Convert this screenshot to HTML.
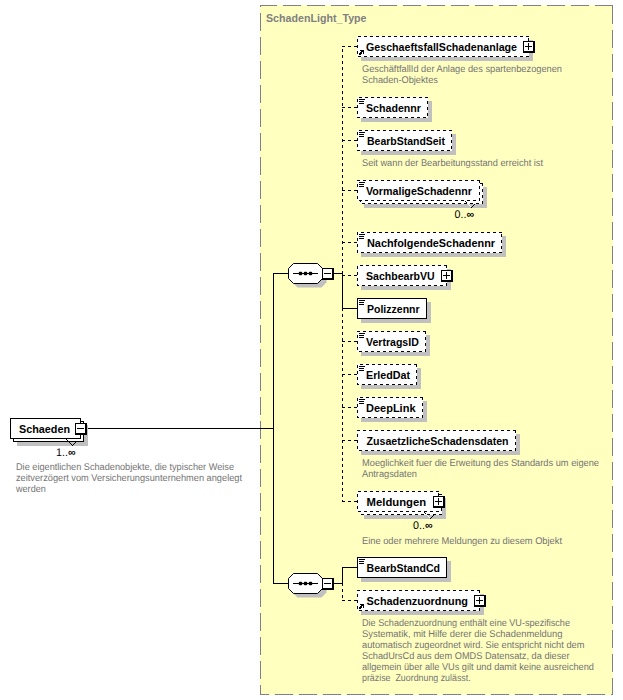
<!DOCTYPE html>
<html><head><meta charset="utf-8"><style>
html,body{margin:0;padding:0;width:623px;height:700px;overflow:hidden;background:#fff}
text{white-space:pre}
</style></head><body>
<svg width="623" height="700" viewBox="0 0 623 700" style="position:absolute;left:0;top:0;font-family:'Liberation Sans', sans-serif">
<rect width="623" height="700" fill="#fff"/>
<rect x="260" y="5" width="353" height="690" fill="#FFFFC0"/>
<g stroke="#808080" stroke-width="1" fill="none" shape-rendering="crispEdges">
<line x1="260" y1="5.5" x2="613" y2="5.5" stroke-dasharray="18 6" stroke-dashoffset="1"/>
<line x1="260.5" y1="5" x2="260.5" y2="695" stroke-dasharray="18 6" stroke-dashoffset="16"/>
<line x1="612.5" y1="5" x2="612.5" y2="695" stroke-dasharray="18 6" stroke-dashoffset="23"/>
<line x1="260" y1="694.5" x2="613" y2="694.5" stroke-dasharray="18 6" stroke-dashoffset="9"/>
</g>
<text x="266" y="22" font-size="11" font-weight="700" fill="#808080" textLength="100.50" lengthAdjust="spacingAndGlyphs">SchadenLight_Type</text>
<g shape-rendering="crispEdges">
<line x1="87" y1="428.5" x2="273" y2="428.5" stroke="#000"/>
<line x1="273.5" y1="273" x2="273.5" y2="584" stroke="#000"/>
<line x1="273" y1="273.5" x2="288" y2="273.5" stroke="#000"/>
<line x1="273" y1="583.5" x2="288" y2="583.5" stroke="#000"/>
<line x1="334" y1="273.5" x2="343" y2="273.5" stroke="#000"/>
<line x1="334" y1="583.5" x2="343" y2="583.5" stroke="#000"/>
<line x1="342.5" y1="46" x2="342.5" y2="274" stroke="#000" stroke-dasharray="3 3" stroke-dashoffset="3"/>
<line x1="342.5" y1="273" x2="342.5" y2="502" stroke="#000" stroke-dasharray="3 3" stroke-dashoffset="1"/>
<line x1="342.5" y1="273" x2="342.5" y2="309" stroke="#000"/>
<line x1="342.5" y1="567" x2="342.5" y2="584" stroke="#000"/>
<line x1="342.5" y1="583" x2="342.5" y2="601" stroke="#000" stroke-dasharray="3 3" stroke-dashoffset="0"/>
<line x1="342" y1="46.5" x2="357" y2="46.5" stroke="#000" stroke-dasharray="3 3" stroke-dashoffset="0"/>
<line x1="342" y1="107.5" x2="357" y2="107.5" stroke="#000" stroke-dasharray="3 3" stroke-dashoffset="0"/>
<line x1="342" y1="140.5" x2="357" y2="140.5" stroke="#000" stroke-dasharray="3 3" stroke-dashoffset="0"/>
<line x1="342" y1="190.5" x2="357" y2="190.5" stroke="#000" stroke-dasharray="3 3" stroke-dashoffset="0"/>
<line x1="342" y1="242.5" x2="357" y2="242.5" stroke="#000" stroke-dasharray="3 3" stroke-dashoffset="0"/>
<line x1="342" y1="275.5" x2="357" y2="275.5" stroke="#000" stroke-dasharray="3 3" stroke-dashoffset="0"/>
<line x1="342" y1="308.5" x2="357" y2="308.5" stroke="#000"/>
<line x1="342" y1="341.5" x2="357" y2="341.5" stroke="#000" stroke-dasharray="3 3" stroke-dashoffset="0"/>
<line x1="342" y1="374.5" x2="357" y2="374.5" stroke="#000" stroke-dasharray="3 3" stroke-dashoffset="0"/>
<line x1="342" y1="407.5" x2="357" y2="407.5" stroke="#000" stroke-dasharray="3 3" stroke-dashoffset="0"/>
<line x1="342" y1="440.5" x2="357" y2="440.5" stroke="#000" stroke-dasharray="3 3" stroke-dashoffset="0"/>
<line x1="342" y1="501.5" x2="357" y2="501.5" stroke="#000" stroke-dasharray="3 3" stroke-dashoffset="0"/>
<line x1="342" y1="567.5" x2="357" y2="567.5" stroke="#000"/>
<line x1="342" y1="600.5" x2="357" y2="600.5" stroke="#000" stroke-dasharray="3 3" stroke-dashoffset="0"/>
</g>
<polygon points="292.5,272.5 297.5,267.5 321.5,267.5 326.5,272.5 326.5,282.5 321.5,287.5 297.5,287.5 292.5,282.5" fill="#C0C0C0"/>
<polygon points="288.5,268.5 293.5,263.5 317.5,263.5 322.5,268.5 322.5,278.5 317.5,283.5 293.5,283.5 288.5,278.5" fill="#fff" stroke="#000"/>
<line x1="293" y1="273.5" x2="318" y2="273.5" stroke="#000"/>
<rect x="299" y="272" width="3" height="3" fill="#000"/>
<rect x="298.5" y="272.5" width="4" height="2" fill="#000" opacity="0.5"/>
<rect x="299.5" y="271.5" width="2" height="4" fill="#000" opacity="0.5"/>
<rect x="304" y="272" width="3" height="3" fill="#000"/>
<rect x="303.5" y="272.5" width="4" height="2" fill="#000" opacity="0.5"/>
<rect x="304.5" y="271.5" width="2" height="4" fill="#000" opacity="0.5"/>
<rect x="309" y="272" width="3" height="3" fill="#000"/>
<rect x="308.5" y="272.5" width="4" height="2" fill="#000" opacity="0.5"/>
<rect x="309.5" y="271.5" width="2" height="4" fill="#000" opacity="0.5"/>
<rect x="322" y="268" width="12" height="12" fill="#000"/>
<rect x="323" y="269" width="9" height="9" fill="#fff"/>
<line x1="324" y1="273.5" x2="331" y2="273.5" stroke="#000"/>
<polygon points="292.5,582.5 297.5,577.5 321.5,577.5 326.5,582.5 326.5,592.5 321.5,597.5 297.5,597.5 292.5,592.5" fill="#C0C0C0"/>
<polygon points="288.5,578.5 293.5,573.5 317.5,573.5 322.5,578.5 322.5,588.5 317.5,593.5 293.5,593.5 288.5,588.5" fill="#fff" stroke="#000"/>
<line x1="293" y1="583.5" x2="318" y2="583.5" stroke="#000"/>
<rect x="299" y="582" width="3" height="3" fill="#000"/>
<rect x="298.5" y="582.5" width="4" height="2" fill="#000" opacity="0.5"/>
<rect x="299.5" y="581.5" width="2" height="4" fill="#000" opacity="0.5"/>
<rect x="304" y="582" width="3" height="3" fill="#000"/>
<rect x="303.5" y="582.5" width="4" height="2" fill="#000" opacity="0.5"/>
<rect x="304.5" y="581.5" width="2" height="4" fill="#000" opacity="0.5"/>
<rect x="309" y="582" width="3" height="3" fill="#000"/>
<rect x="308.5" y="582.5" width="4" height="2" fill="#000" opacity="0.5"/>
<rect x="309.5" y="581.5" width="2" height="4" fill="#000" opacity="0.5"/>
<rect x="322" y="578" width="12" height="12" fill="#000"/>
<rect x="323" y="579" width="9" height="9" fill="#fff"/>
<line x1="324" y1="583.5" x2="331" y2="583.5" stroke="#000"/>
<g shape-rendering="crispEdges">
<rect x="361" y="40" width="172" height="21" fill="#C0C0C0"/>
<rect x="357" y="36" width="172" height="21" fill="#fff"/>
<path d="M528,36h1v1h-1zM527,36h1v1h-1zM526,36h1v1h-1zM522,36h1v1h-1zM521,36h1v1h-1zM520,36h1v1h-1zM516,36h1v1h-1zM515,36h1v1h-1zM514,36h1v1h-1zM510,36h1v1h-1zM509,36h1v1h-1zM508,36h1v1h-1zM504,36h1v1h-1zM503,36h1v1h-1zM502,36h1v1h-1zM498,36h1v1h-1zM497,36h1v1h-1zM496,36h1v1h-1zM492,36h1v1h-1zM491,36h1v1h-1zM490,36h1v1h-1zM486,36h1v1h-1zM485,36h1v1h-1zM484,36h1v1h-1zM480,36h1v1h-1zM479,36h1v1h-1zM478,36h1v1h-1zM474,36h1v1h-1zM473,36h1v1h-1zM472,36h1v1h-1zM468,36h1v1h-1zM467,36h1v1h-1zM466,36h1v1h-1zM462,36h1v1h-1zM461,36h1v1h-1zM460,36h1v1h-1zM456,36h1v1h-1zM455,36h1v1h-1zM454,36h1v1h-1zM450,36h1v1h-1zM449,36h1v1h-1zM448,36h1v1h-1zM444,36h1v1h-1zM443,36h1v1h-1zM442,36h1v1h-1zM438,36h1v1h-1zM437,36h1v1h-1zM436,36h1v1h-1zM432,36h1v1h-1zM431,36h1v1h-1zM430,36h1v1h-1zM426,36h1v1h-1zM425,36h1v1h-1zM424,36h1v1h-1zM420,36h1v1h-1zM419,36h1v1h-1zM418,36h1v1h-1zM414,36h1v1h-1zM413,36h1v1h-1zM412,36h1v1h-1zM408,36h1v1h-1zM407,36h1v1h-1zM406,36h1v1h-1zM402,36h1v1h-1zM401,36h1v1h-1zM400,36h1v1h-1zM396,36h1v1h-1zM395,36h1v1h-1zM394,36h1v1h-1zM390,36h1v1h-1zM389,36h1v1h-1zM388,36h1v1h-1zM384,36h1v1h-1zM383,36h1v1h-1zM382,36h1v1h-1zM378,36h1v1h-1zM377,36h1v1h-1zM376,36h1v1h-1zM372,36h1v1h-1zM371,36h1v1h-1zM370,36h1v1h-1zM366,36h1v1h-1zM365,36h1v1h-1zM364,36h1v1h-1zM360,36h1v1h-1zM359,36h1v1h-1zM358,36h1v1h-1zM357,39h1v1h-1zM357,40h1v1h-1zM357,41h1v1h-1zM357,45h1v1h-1zM357,46h1v1h-1zM357,47h1v1h-1zM357,51h1v1h-1zM357,52h1v1h-1zM357,53h1v1h-1zM358,56h1v1h-1zM359,56h1v1h-1zM360,56h1v1h-1zM364,56h1v1h-1zM365,56h1v1h-1zM366,56h1v1h-1zM370,56h1v1h-1zM371,56h1v1h-1zM372,56h1v1h-1zM376,56h1v1h-1zM377,56h1v1h-1zM378,56h1v1h-1zM382,56h1v1h-1zM383,56h1v1h-1zM384,56h1v1h-1zM388,56h1v1h-1zM389,56h1v1h-1zM390,56h1v1h-1zM394,56h1v1h-1zM395,56h1v1h-1zM396,56h1v1h-1zM400,56h1v1h-1zM401,56h1v1h-1zM402,56h1v1h-1zM406,56h1v1h-1zM407,56h1v1h-1zM408,56h1v1h-1zM412,56h1v1h-1zM413,56h1v1h-1zM414,56h1v1h-1zM418,56h1v1h-1zM419,56h1v1h-1zM420,56h1v1h-1zM424,56h1v1h-1zM425,56h1v1h-1zM426,56h1v1h-1zM430,56h1v1h-1zM431,56h1v1h-1zM432,56h1v1h-1zM436,56h1v1h-1zM437,56h1v1h-1zM438,56h1v1h-1zM442,56h1v1h-1zM443,56h1v1h-1zM444,56h1v1h-1zM448,56h1v1h-1zM449,56h1v1h-1zM450,56h1v1h-1zM454,56h1v1h-1zM455,56h1v1h-1zM456,56h1v1h-1zM460,56h1v1h-1zM461,56h1v1h-1zM462,56h1v1h-1zM466,56h1v1h-1zM467,56h1v1h-1zM468,56h1v1h-1zM472,56h1v1h-1zM473,56h1v1h-1zM474,56h1v1h-1zM478,56h1v1h-1zM479,56h1v1h-1zM480,56h1v1h-1zM484,56h1v1h-1zM485,56h1v1h-1zM486,56h1v1h-1zM490,56h1v1h-1zM491,56h1v1h-1zM492,56h1v1h-1zM496,56h1v1h-1zM497,56h1v1h-1zM498,56h1v1h-1zM502,56h1v1h-1zM503,56h1v1h-1zM504,56h1v1h-1zM508,56h1v1h-1zM509,56h1v1h-1zM510,56h1v1h-1zM514,56h1v1h-1zM515,56h1v1h-1zM516,56h1v1h-1zM520,56h1v1h-1zM521,56h1v1h-1zM522,56h1v1h-1zM526,56h1v1h-1zM527,56h1v1h-1zM528,56h1v1h-1zM528,52h1v1h-1zM528,51h1v1h-1zM528,50h1v1h-1zM528,46h1v1h-1zM528,45h1v1h-1zM528,44h1v1h-1zM528,40h1v1h-1zM528,39h1v1h-1zM528,38h1v1h-1z" fill="#000"/>
<rect x="360" y="50" width="4" height="1" fill="#000"/>
<rect x="361" y="51" width="3" height="1" fill="#000"/>
<rect x="360" y="52" width="2" height="1" fill="#000"/>
<rect x="363" y="52" width="1" height="2" fill="#000"/>
<rect x="359" y="53" width="3" height="1" fill="#000"/>
<rect x="359" y="54" width="2" height="1" fill="#000"/>
<text x="366" y="51" font-size="11" font-weight="700" fill="#000" textLength="151.00" lengthAdjust="spacingAndGlyphs">GeschaeftsfallSchadenanlage</text>
<rect x="523" y="41" width="12" height="12" fill="#000"/>
<rect x="524" y="42" width="9" height="9" fill="#fff"/>
<line x1="525" y1="46.5" x2="532" y2="46.5" stroke="#000"/>
<line x1="528.5" y1="43" x2="528.5" y2="50" stroke="#000"/>
<rect x="361" y="101" width="71" height="21" fill="#C0C0C0"/>
<rect x="357" y="97" width="71" height="21" fill="#fff"/>
<path d="M427,97h1v1h-1zM426,97h1v1h-1zM425,97h1v1h-1zM421,97h1v1h-1zM420,97h1v1h-1zM419,97h1v1h-1zM415,97h1v1h-1zM414,97h1v1h-1zM413,97h1v1h-1zM409,97h1v1h-1zM408,97h1v1h-1zM407,97h1v1h-1zM403,97h1v1h-1zM402,97h1v1h-1zM401,97h1v1h-1zM397,97h1v1h-1zM396,97h1v1h-1zM395,97h1v1h-1zM391,97h1v1h-1zM390,97h1v1h-1zM389,97h1v1h-1zM385,97h1v1h-1zM384,97h1v1h-1zM383,97h1v1h-1zM379,97h1v1h-1zM378,97h1v1h-1zM377,97h1v1h-1zM373,97h1v1h-1zM372,97h1v1h-1zM371,97h1v1h-1zM367,97h1v1h-1zM366,97h1v1h-1zM365,97h1v1h-1zM361,97h1v1h-1zM360,97h1v1h-1zM359,97h1v1h-1zM357,99h1v1h-1zM357,100h1v1h-1zM357,101h1v1h-1zM357,105h1v1h-1zM357,106h1v1h-1zM357,107h1v1h-1zM357,111h1v1h-1zM357,112h1v1h-1zM357,113h1v1h-1zM357,117h1v1h-1zM358,117h1v1h-1zM359,117h1v1h-1zM363,117h1v1h-1zM364,117h1v1h-1zM365,117h1v1h-1zM369,117h1v1h-1zM370,117h1v1h-1zM371,117h1v1h-1zM375,117h1v1h-1zM376,117h1v1h-1zM377,117h1v1h-1zM381,117h1v1h-1zM382,117h1v1h-1zM383,117h1v1h-1zM387,117h1v1h-1zM388,117h1v1h-1zM389,117h1v1h-1zM393,117h1v1h-1zM394,117h1v1h-1zM395,117h1v1h-1zM399,117h1v1h-1zM400,117h1v1h-1zM401,117h1v1h-1zM405,117h1v1h-1zM406,117h1v1h-1zM407,117h1v1h-1zM411,117h1v1h-1zM412,117h1v1h-1zM413,117h1v1h-1zM417,117h1v1h-1zM418,117h1v1h-1zM419,117h1v1h-1zM423,117h1v1h-1zM424,117h1v1h-1zM425,117h1v1h-1zM427,115h1v1h-1zM427,114h1v1h-1zM427,113h1v1h-1zM427,109h1v1h-1zM427,108h1v1h-1zM427,107h1v1h-1zM427,103h1v1h-1zM427,102h1v1h-1zM427,101h1v1h-1z" fill="#000"/>
<line x1="359" y1="99.5" x2="365" y2="99.5" stroke="#000"/>
<line x1="359" y1="101.5" x2="364" y2="101.5" stroke="#000"/>
<line x1="359" y1="103.5" x2="364" y2="103.5" stroke="#000"/>
<text x="366" y="112" font-size="11" font-weight="700" fill="#000" textLength="55.00" lengthAdjust="spacingAndGlyphs">Schadennr</text>
<rect x="361" y="134" width="95" height="21" fill="#C0C0C0"/>
<rect x="357" y="130" width="95" height="21" fill="#fff"/>
<path d="M451,130h1v1h-1zM450,130h1v1h-1zM449,130h1v1h-1zM445,130h1v1h-1zM444,130h1v1h-1zM443,130h1v1h-1zM439,130h1v1h-1zM438,130h1v1h-1zM437,130h1v1h-1zM433,130h1v1h-1zM432,130h1v1h-1zM431,130h1v1h-1zM427,130h1v1h-1zM426,130h1v1h-1zM425,130h1v1h-1zM421,130h1v1h-1zM420,130h1v1h-1zM419,130h1v1h-1zM415,130h1v1h-1zM414,130h1v1h-1zM413,130h1v1h-1zM409,130h1v1h-1zM408,130h1v1h-1zM407,130h1v1h-1zM403,130h1v1h-1zM402,130h1v1h-1zM401,130h1v1h-1zM397,130h1v1h-1zM396,130h1v1h-1zM395,130h1v1h-1zM391,130h1v1h-1zM390,130h1v1h-1zM389,130h1v1h-1zM385,130h1v1h-1zM384,130h1v1h-1zM383,130h1v1h-1zM379,130h1v1h-1zM378,130h1v1h-1zM377,130h1v1h-1zM373,130h1v1h-1zM372,130h1v1h-1zM371,130h1v1h-1zM367,130h1v1h-1zM366,130h1v1h-1zM365,130h1v1h-1zM361,130h1v1h-1zM360,130h1v1h-1zM359,130h1v1h-1zM357,132h1v1h-1zM357,133h1v1h-1zM357,134h1v1h-1zM357,138h1v1h-1zM357,139h1v1h-1zM357,140h1v1h-1zM357,144h1v1h-1zM357,145h1v1h-1zM357,146h1v1h-1zM357,150h1v1h-1zM358,150h1v1h-1zM359,150h1v1h-1zM363,150h1v1h-1zM364,150h1v1h-1zM365,150h1v1h-1zM369,150h1v1h-1zM370,150h1v1h-1zM371,150h1v1h-1zM375,150h1v1h-1zM376,150h1v1h-1zM377,150h1v1h-1zM381,150h1v1h-1zM382,150h1v1h-1zM383,150h1v1h-1zM387,150h1v1h-1zM388,150h1v1h-1zM389,150h1v1h-1zM393,150h1v1h-1zM394,150h1v1h-1zM395,150h1v1h-1zM399,150h1v1h-1zM400,150h1v1h-1zM401,150h1v1h-1zM405,150h1v1h-1zM406,150h1v1h-1zM407,150h1v1h-1zM411,150h1v1h-1zM412,150h1v1h-1zM413,150h1v1h-1zM417,150h1v1h-1zM418,150h1v1h-1zM419,150h1v1h-1zM423,150h1v1h-1zM424,150h1v1h-1zM425,150h1v1h-1zM429,150h1v1h-1zM430,150h1v1h-1zM431,150h1v1h-1zM435,150h1v1h-1zM436,150h1v1h-1zM437,150h1v1h-1zM441,150h1v1h-1zM442,150h1v1h-1zM443,150h1v1h-1zM447,150h1v1h-1zM448,150h1v1h-1zM449,150h1v1h-1zM451,148h1v1h-1zM451,147h1v1h-1zM451,146h1v1h-1zM451,142h1v1h-1zM451,141h1v1h-1zM451,140h1v1h-1zM451,136h1v1h-1zM451,135h1v1h-1zM451,134h1v1h-1z" fill="#000"/>
<line x1="359" y1="132.5" x2="365" y2="132.5" stroke="#000"/>
<line x1="359" y1="134.5" x2="364" y2="134.5" stroke="#000"/>
<line x1="359" y1="136.5" x2="364" y2="136.5" stroke="#000"/>
<text x="367" y="145" font-size="11" font-weight="700" fill="#000" textLength="78.00" lengthAdjust="spacingAndGlyphs">BearbStandSeit</text>
<rect x="364" y="187" width="123" height="21" fill="#C0C0C0"/>
<rect x="360" y="183" width="123" height="21" fill="#fff"/>
<path d="M482,183h1v1h-1zM481,183h1v1h-1zM480,183h1v1h-1zM476,183h1v1h-1zM475,183h1v1h-1zM474,183h1v1h-1zM470,183h1v1h-1zM469,183h1v1h-1zM468,183h1v1h-1zM464,183h1v1h-1zM463,183h1v1h-1zM462,183h1v1h-1zM458,183h1v1h-1zM457,183h1v1h-1zM456,183h1v1h-1zM452,183h1v1h-1zM451,183h1v1h-1zM450,183h1v1h-1zM446,183h1v1h-1zM445,183h1v1h-1zM444,183h1v1h-1zM440,183h1v1h-1zM439,183h1v1h-1zM438,183h1v1h-1zM434,183h1v1h-1zM433,183h1v1h-1zM432,183h1v1h-1zM428,183h1v1h-1zM427,183h1v1h-1zM426,183h1v1h-1zM422,183h1v1h-1zM421,183h1v1h-1zM420,183h1v1h-1zM416,183h1v1h-1zM415,183h1v1h-1zM414,183h1v1h-1zM410,183h1v1h-1zM409,183h1v1h-1zM408,183h1v1h-1zM404,183h1v1h-1zM403,183h1v1h-1zM402,183h1v1h-1zM398,183h1v1h-1zM397,183h1v1h-1zM396,183h1v1h-1zM392,183h1v1h-1zM391,183h1v1h-1zM390,183h1v1h-1zM386,183h1v1h-1zM385,183h1v1h-1zM384,183h1v1h-1zM380,183h1v1h-1zM379,183h1v1h-1zM378,183h1v1h-1zM374,183h1v1h-1zM373,183h1v1h-1zM372,183h1v1h-1zM368,183h1v1h-1zM367,183h1v1h-1zM366,183h1v1h-1zM362,183h1v1h-1zM361,183h1v1h-1zM360,183h1v1h-1zM360,187h1v1h-1zM360,188h1v1h-1zM360,189h1v1h-1zM360,193h1v1h-1zM360,194h1v1h-1zM360,195h1v1h-1zM360,199h1v1h-1zM360,200h1v1h-1zM360,201h1v1h-1zM362,203h1v1h-1zM363,203h1v1h-1zM364,203h1v1h-1zM368,203h1v1h-1zM369,203h1v1h-1zM370,203h1v1h-1zM374,203h1v1h-1zM375,203h1v1h-1zM376,203h1v1h-1zM380,203h1v1h-1zM381,203h1v1h-1zM382,203h1v1h-1zM386,203h1v1h-1zM387,203h1v1h-1zM388,203h1v1h-1zM392,203h1v1h-1zM393,203h1v1h-1zM394,203h1v1h-1zM398,203h1v1h-1zM399,203h1v1h-1zM400,203h1v1h-1zM404,203h1v1h-1zM405,203h1v1h-1zM406,203h1v1h-1zM410,203h1v1h-1zM411,203h1v1h-1zM412,203h1v1h-1zM416,203h1v1h-1zM417,203h1v1h-1zM418,203h1v1h-1zM422,203h1v1h-1zM423,203h1v1h-1zM424,203h1v1h-1zM428,203h1v1h-1zM429,203h1v1h-1zM430,203h1v1h-1zM434,203h1v1h-1zM435,203h1v1h-1zM436,203h1v1h-1zM440,203h1v1h-1zM441,203h1v1h-1zM442,203h1v1h-1zM446,203h1v1h-1zM447,203h1v1h-1zM448,203h1v1h-1zM452,203h1v1h-1zM453,203h1v1h-1zM454,203h1v1h-1zM458,203h1v1h-1zM459,203h1v1h-1zM460,203h1v1h-1zM464,203h1v1h-1zM465,203h1v1h-1zM466,203h1v1h-1zM470,203h1v1h-1zM471,203h1v1h-1zM472,203h1v1h-1zM476,203h1v1h-1zM477,203h1v1h-1zM478,203h1v1h-1zM482,203h1v1h-1zM482,202h1v1h-1zM482,201h1v1h-1zM482,197h1v1h-1zM482,196h1v1h-1zM482,195h1v1h-1zM482,191h1v1h-1zM482,190h1v1h-1zM482,189h1v1h-1zM482,185h1v1h-1zM482,184h1v1h-1z" fill="#000"/>
<rect x="357" y="180" width="123" height="21" fill="#fff"/>
<path d="M479,180h1v1h-1zM478,180h1v1h-1zM477,180h1v1h-1zM473,180h1v1h-1zM472,180h1v1h-1zM471,180h1v1h-1zM467,180h1v1h-1zM466,180h1v1h-1zM465,180h1v1h-1zM461,180h1v1h-1zM460,180h1v1h-1zM459,180h1v1h-1zM455,180h1v1h-1zM454,180h1v1h-1zM453,180h1v1h-1zM449,180h1v1h-1zM448,180h1v1h-1zM447,180h1v1h-1zM443,180h1v1h-1zM442,180h1v1h-1zM441,180h1v1h-1zM437,180h1v1h-1zM436,180h1v1h-1zM435,180h1v1h-1zM431,180h1v1h-1zM430,180h1v1h-1zM429,180h1v1h-1zM425,180h1v1h-1zM424,180h1v1h-1zM423,180h1v1h-1zM419,180h1v1h-1zM418,180h1v1h-1zM417,180h1v1h-1zM413,180h1v1h-1zM412,180h1v1h-1zM411,180h1v1h-1zM407,180h1v1h-1zM406,180h1v1h-1zM405,180h1v1h-1zM401,180h1v1h-1zM400,180h1v1h-1zM399,180h1v1h-1zM395,180h1v1h-1zM394,180h1v1h-1zM393,180h1v1h-1zM389,180h1v1h-1zM388,180h1v1h-1zM387,180h1v1h-1zM383,180h1v1h-1zM382,180h1v1h-1zM381,180h1v1h-1zM377,180h1v1h-1zM376,180h1v1h-1zM375,180h1v1h-1zM371,180h1v1h-1zM370,180h1v1h-1zM369,180h1v1h-1zM365,180h1v1h-1zM364,180h1v1h-1zM363,180h1v1h-1zM359,180h1v1h-1zM358,180h1v1h-1zM357,180h1v1h-1zM357,184h1v1h-1zM357,185h1v1h-1zM357,186h1v1h-1zM357,190h1v1h-1zM357,191h1v1h-1zM357,192h1v1h-1zM357,196h1v1h-1zM357,197h1v1h-1zM357,198h1v1h-1zM359,200h1v1h-1zM360,200h1v1h-1zM361,200h1v1h-1zM365,200h1v1h-1zM366,200h1v1h-1zM367,200h1v1h-1zM371,200h1v1h-1zM372,200h1v1h-1zM373,200h1v1h-1zM377,200h1v1h-1zM378,200h1v1h-1zM379,200h1v1h-1zM383,200h1v1h-1zM384,200h1v1h-1zM385,200h1v1h-1zM389,200h1v1h-1zM390,200h1v1h-1zM391,200h1v1h-1zM395,200h1v1h-1zM396,200h1v1h-1zM397,200h1v1h-1zM401,200h1v1h-1zM402,200h1v1h-1zM403,200h1v1h-1zM407,200h1v1h-1zM408,200h1v1h-1zM409,200h1v1h-1zM413,200h1v1h-1zM414,200h1v1h-1zM415,200h1v1h-1zM419,200h1v1h-1zM420,200h1v1h-1zM421,200h1v1h-1zM425,200h1v1h-1zM426,200h1v1h-1zM427,200h1v1h-1zM431,200h1v1h-1zM432,200h1v1h-1zM433,200h1v1h-1zM437,200h1v1h-1zM438,200h1v1h-1zM439,200h1v1h-1zM443,200h1v1h-1zM444,200h1v1h-1zM445,200h1v1h-1zM449,200h1v1h-1zM450,200h1v1h-1zM451,200h1v1h-1zM455,200h1v1h-1zM456,200h1v1h-1zM457,200h1v1h-1zM461,200h1v1h-1zM462,200h1v1h-1zM463,200h1v1h-1zM467,200h1v1h-1zM468,200h1v1h-1zM469,200h1v1h-1zM473,200h1v1h-1zM474,200h1v1h-1zM475,200h1v1h-1zM479,200h1v1h-1zM479,199h1v1h-1zM479,198h1v1h-1zM479,194h1v1h-1zM479,193h1v1h-1zM479,192h1v1h-1zM479,188h1v1h-1zM479,187h1v1h-1zM479,186h1v1h-1zM479,182h1v1h-1zM479,181h1v1h-1z" fill="#000"/>
<line x1="359" y1="182.5" x2="365" y2="182.5" stroke="#000"/>
<line x1="359" y1="184.5" x2="364" y2="184.5" stroke="#000"/>
<line x1="359" y1="186.5" x2="364" y2="186.5" stroke="#000"/>
<text x="366" y="195" font-size="11" font-weight="700" fill="#000" textLength="106.00" lengthAdjust="spacingAndGlyphs">VormaligeSchadennr</text>
<rect x="468" y="204" width="1" height="1" fill="#fff"/>
<rect x="469" y="205" width="1" height="1" fill="#fff"/>
<rect x="470" y="206" width="1" height="1" fill="#fff"/>
<rect x="465" y="201" width="1" height="1" fill="#000"/>
<rect x="466" y="202" width="1" height="1" fill="#000"/>
<rect x="471" y="207" width="1" height="1" fill="#000"/>
<rect x="472" y="206" width="1" height="1" fill="#000"/>
<rect x="473" y="205" width="1" height="1" fill="#000"/>
<rect x="474" y="204" width="1" height="1" fill="#000"/>
<text x="454.5" y="218" font-size="11" fill="#000" text-rendering="geometricPrecision" textLength="19.5" lengthAdjust="spacingAndGlyphs">0..<tspan font-weight="700">∞</tspan></text>
<rect x="361" y="236" width="145" height="21" fill="#C0C0C0"/>
<rect x="357" y="232" width="145" height="21" fill="#fff"/>
<path d="M501,232h1v1h-1zM500,232h1v1h-1zM499,232h1v1h-1zM495,232h1v1h-1zM494,232h1v1h-1zM493,232h1v1h-1zM489,232h1v1h-1zM488,232h1v1h-1zM487,232h1v1h-1zM483,232h1v1h-1zM482,232h1v1h-1zM481,232h1v1h-1zM477,232h1v1h-1zM476,232h1v1h-1zM475,232h1v1h-1zM471,232h1v1h-1zM470,232h1v1h-1zM469,232h1v1h-1zM465,232h1v1h-1zM464,232h1v1h-1zM463,232h1v1h-1zM459,232h1v1h-1zM458,232h1v1h-1zM457,232h1v1h-1zM453,232h1v1h-1zM452,232h1v1h-1zM451,232h1v1h-1zM447,232h1v1h-1zM446,232h1v1h-1zM445,232h1v1h-1zM441,232h1v1h-1zM440,232h1v1h-1zM439,232h1v1h-1zM435,232h1v1h-1zM434,232h1v1h-1zM433,232h1v1h-1zM429,232h1v1h-1zM428,232h1v1h-1zM427,232h1v1h-1zM423,232h1v1h-1zM422,232h1v1h-1zM421,232h1v1h-1zM417,232h1v1h-1zM416,232h1v1h-1zM415,232h1v1h-1zM411,232h1v1h-1zM410,232h1v1h-1zM409,232h1v1h-1zM405,232h1v1h-1zM404,232h1v1h-1zM403,232h1v1h-1zM399,232h1v1h-1zM398,232h1v1h-1zM397,232h1v1h-1zM393,232h1v1h-1zM392,232h1v1h-1zM391,232h1v1h-1zM387,232h1v1h-1zM386,232h1v1h-1zM385,232h1v1h-1zM381,232h1v1h-1zM380,232h1v1h-1zM379,232h1v1h-1zM375,232h1v1h-1zM374,232h1v1h-1zM373,232h1v1h-1zM369,232h1v1h-1zM368,232h1v1h-1zM367,232h1v1h-1zM363,232h1v1h-1zM362,232h1v1h-1zM361,232h1v1h-1zM357,232h1v1h-1zM357,233h1v1h-1zM357,234h1v1h-1zM357,238h1v1h-1zM357,239h1v1h-1zM357,240h1v1h-1zM357,244h1v1h-1zM357,245h1v1h-1zM357,246h1v1h-1zM357,250h1v1h-1zM357,251h1v1h-1zM357,252h1v1h-1zM361,252h1v1h-1zM362,252h1v1h-1zM363,252h1v1h-1zM367,252h1v1h-1zM368,252h1v1h-1zM369,252h1v1h-1zM373,252h1v1h-1zM374,252h1v1h-1zM375,252h1v1h-1zM379,252h1v1h-1zM380,252h1v1h-1zM381,252h1v1h-1zM385,252h1v1h-1zM386,252h1v1h-1zM387,252h1v1h-1zM391,252h1v1h-1zM392,252h1v1h-1zM393,252h1v1h-1zM397,252h1v1h-1zM398,252h1v1h-1zM399,252h1v1h-1zM403,252h1v1h-1zM404,252h1v1h-1zM405,252h1v1h-1zM409,252h1v1h-1zM410,252h1v1h-1zM411,252h1v1h-1zM415,252h1v1h-1zM416,252h1v1h-1zM417,252h1v1h-1zM421,252h1v1h-1zM422,252h1v1h-1zM423,252h1v1h-1zM427,252h1v1h-1zM428,252h1v1h-1zM429,252h1v1h-1zM433,252h1v1h-1zM434,252h1v1h-1zM435,252h1v1h-1zM439,252h1v1h-1zM440,252h1v1h-1zM441,252h1v1h-1zM445,252h1v1h-1zM446,252h1v1h-1zM447,252h1v1h-1zM451,252h1v1h-1zM452,252h1v1h-1zM453,252h1v1h-1zM457,252h1v1h-1zM458,252h1v1h-1zM459,252h1v1h-1zM463,252h1v1h-1zM464,252h1v1h-1zM465,252h1v1h-1zM469,252h1v1h-1zM470,252h1v1h-1zM471,252h1v1h-1zM475,252h1v1h-1zM476,252h1v1h-1zM477,252h1v1h-1zM481,252h1v1h-1zM482,252h1v1h-1zM483,252h1v1h-1zM487,252h1v1h-1zM488,252h1v1h-1zM489,252h1v1h-1zM493,252h1v1h-1zM494,252h1v1h-1zM495,252h1v1h-1zM499,252h1v1h-1zM500,252h1v1h-1zM501,252h1v1h-1zM501,248h1v1h-1zM501,247h1v1h-1zM501,246h1v1h-1zM501,242h1v1h-1zM501,241h1v1h-1zM501,240h1v1h-1zM501,236h1v1h-1zM501,235h1v1h-1zM501,234h1v1h-1z" fill="#000"/>
<line x1="359" y1="234.5" x2="365" y2="234.5" stroke="#000"/>
<line x1="359" y1="236.5" x2="364" y2="236.5" stroke="#000"/>
<line x1="359" y1="238.5" x2="364" y2="238.5" stroke="#000"/>
<text x="367" y="247" font-size="11" font-weight="700" fill="#000" textLength="128.00" lengthAdjust="spacingAndGlyphs">NachfolgendeSchadennr</text>
<rect x="361" y="269" width="90" height="21" fill="#C0C0C0"/>
<rect x="357" y="265" width="90" height="21" fill="#fff"/>
<path d="M446,265h1v1h-1zM445,265h1v1h-1zM444,265h1v1h-1zM440,265h1v1h-1zM439,265h1v1h-1zM438,265h1v1h-1zM434,265h1v1h-1zM433,265h1v1h-1zM432,265h1v1h-1zM428,265h1v1h-1zM427,265h1v1h-1zM426,265h1v1h-1zM422,265h1v1h-1zM421,265h1v1h-1zM420,265h1v1h-1zM416,265h1v1h-1zM415,265h1v1h-1zM414,265h1v1h-1zM410,265h1v1h-1zM409,265h1v1h-1zM408,265h1v1h-1zM404,265h1v1h-1zM403,265h1v1h-1zM402,265h1v1h-1zM398,265h1v1h-1zM397,265h1v1h-1zM396,265h1v1h-1zM392,265h1v1h-1zM391,265h1v1h-1zM390,265h1v1h-1zM386,265h1v1h-1zM385,265h1v1h-1zM384,265h1v1h-1zM380,265h1v1h-1zM379,265h1v1h-1zM378,265h1v1h-1zM374,265h1v1h-1zM373,265h1v1h-1zM372,265h1v1h-1zM368,265h1v1h-1zM367,265h1v1h-1zM366,265h1v1h-1zM362,265h1v1h-1zM361,265h1v1h-1zM360,265h1v1h-1zM357,266h1v1h-1zM357,267h1v1h-1zM357,268h1v1h-1zM357,272h1v1h-1zM357,273h1v1h-1zM357,274h1v1h-1zM357,278h1v1h-1zM357,279h1v1h-1zM357,280h1v1h-1zM357,284h1v1h-1zM357,285h1v1h-1zM358,285h1v1h-1zM362,285h1v1h-1zM363,285h1v1h-1zM364,285h1v1h-1zM368,285h1v1h-1zM369,285h1v1h-1zM370,285h1v1h-1zM374,285h1v1h-1zM375,285h1v1h-1zM376,285h1v1h-1zM380,285h1v1h-1zM381,285h1v1h-1zM382,285h1v1h-1zM386,285h1v1h-1zM387,285h1v1h-1zM388,285h1v1h-1zM392,285h1v1h-1zM393,285h1v1h-1zM394,285h1v1h-1zM398,285h1v1h-1zM399,285h1v1h-1zM400,285h1v1h-1zM404,285h1v1h-1zM405,285h1v1h-1zM406,285h1v1h-1zM410,285h1v1h-1zM411,285h1v1h-1zM412,285h1v1h-1zM416,285h1v1h-1zM417,285h1v1h-1zM418,285h1v1h-1zM422,285h1v1h-1zM423,285h1v1h-1zM424,285h1v1h-1zM428,285h1v1h-1zM429,285h1v1h-1zM430,285h1v1h-1zM434,285h1v1h-1zM435,285h1v1h-1zM436,285h1v1h-1zM440,285h1v1h-1zM441,285h1v1h-1zM442,285h1v1h-1zM446,285h1v1h-1zM446,284h1v1h-1zM446,283h1v1h-1zM446,279h1v1h-1zM446,278h1v1h-1zM446,277h1v1h-1zM446,273h1v1h-1zM446,272h1v1h-1zM446,271h1v1h-1zM446,267h1v1h-1zM446,266h1v1h-1z" fill="#000"/>
<text x="366" y="280" font-size="11" font-weight="700" fill="#000" textLength="68.60" lengthAdjust="spacingAndGlyphs">SachbearbVU</text>
<rect x="441" y="270" width="12" height="12" fill="#000"/>
<rect x="442" y="271" width="9" height="9" fill="#fff"/>
<line x1="443" y1="275.5" x2="450" y2="275.5" stroke="#000"/>
<line x1="446.5" y1="272" x2="446.5" y2="279" stroke="#000"/>
<rect x="361" y="302" width="70" height="21" fill="#C0C0C0"/>
<rect x="357.5" y="298.5" width="69" height="20" fill="#fff" stroke="#000"/>
<line x1="359" y1="300.5" x2="365" y2="300.5" stroke="#000"/>
<line x1="359" y1="302.5" x2="364" y2="302.5" stroke="#000"/>
<line x1="359" y1="304.5" x2="364" y2="304.5" stroke="#000"/>
<text x="367" y="313" font-size="11" font-weight="700" fill="#000" textLength="52.60" lengthAdjust="spacingAndGlyphs">Polizzennr</text>
<rect x="361" y="335" width="69" height="21" fill="#C0C0C0"/>
<rect x="357" y="331" width="69" height="21" fill="#fff"/>
<path d="M425,331h1v1h-1zM424,331h1v1h-1zM423,331h1v1h-1zM419,331h1v1h-1zM418,331h1v1h-1zM417,331h1v1h-1zM413,331h1v1h-1zM412,331h1v1h-1zM411,331h1v1h-1zM407,331h1v1h-1zM406,331h1v1h-1zM405,331h1v1h-1zM401,331h1v1h-1zM400,331h1v1h-1zM399,331h1v1h-1zM395,331h1v1h-1zM394,331h1v1h-1zM393,331h1v1h-1zM389,331h1v1h-1zM388,331h1v1h-1zM387,331h1v1h-1zM383,331h1v1h-1zM382,331h1v1h-1zM381,331h1v1h-1zM377,331h1v1h-1zM376,331h1v1h-1zM375,331h1v1h-1zM371,331h1v1h-1zM370,331h1v1h-1zM369,331h1v1h-1zM365,331h1v1h-1zM364,331h1v1h-1zM363,331h1v1h-1zM359,331h1v1h-1zM358,331h1v1h-1zM357,331h1v1h-1zM357,335h1v1h-1zM357,336h1v1h-1zM357,337h1v1h-1zM357,341h1v1h-1zM357,342h1v1h-1zM357,343h1v1h-1zM357,347h1v1h-1zM357,348h1v1h-1zM357,349h1v1h-1zM359,351h1v1h-1zM360,351h1v1h-1zM361,351h1v1h-1zM365,351h1v1h-1zM366,351h1v1h-1zM367,351h1v1h-1zM371,351h1v1h-1zM372,351h1v1h-1zM373,351h1v1h-1zM377,351h1v1h-1zM378,351h1v1h-1zM379,351h1v1h-1zM383,351h1v1h-1zM384,351h1v1h-1zM385,351h1v1h-1zM389,351h1v1h-1zM390,351h1v1h-1zM391,351h1v1h-1zM395,351h1v1h-1zM396,351h1v1h-1zM397,351h1v1h-1zM401,351h1v1h-1zM402,351h1v1h-1zM403,351h1v1h-1zM407,351h1v1h-1zM408,351h1v1h-1zM409,351h1v1h-1zM413,351h1v1h-1zM414,351h1v1h-1zM415,351h1v1h-1zM419,351h1v1h-1zM420,351h1v1h-1zM421,351h1v1h-1zM425,351h1v1h-1zM425,350h1v1h-1zM425,349h1v1h-1zM425,345h1v1h-1zM425,344h1v1h-1zM425,343h1v1h-1zM425,339h1v1h-1zM425,338h1v1h-1zM425,337h1v1h-1zM425,333h1v1h-1zM425,332h1v1h-1z" fill="#000"/>
<line x1="359" y1="333.5" x2="365" y2="333.5" stroke="#000"/>
<line x1="359" y1="335.5" x2="364" y2="335.5" stroke="#000"/>
<line x1="359" y1="337.5" x2="364" y2="337.5" stroke="#000"/>
<text x="366" y="346" font-size="11" font-weight="700" fill="#000" textLength="52.80" lengthAdjust="spacingAndGlyphs">VertragsID</text>
<rect x="361" y="368" width="60" height="21" fill="#C0C0C0"/>
<rect x="357" y="364" width="60" height="21" fill="#fff"/>
<path d="M416,364h1v1h-1zM415,364h1v1h-1zM414,364h1v1h-1zM410,364h1v1h-1zM409,364h1v1h-1zM408,364h1v1h-1zM404,364h1v1h-1zM403,364h1v1h-1zM402,364h1v1h-1zM398,364h1v1h-1zM397,364h1v1h-1zM396,364h1v1h-1zM392,364h1v1h-1zM391,364h1v1h-1zM390,364h1v1h-1zM386,364h1v1h-1zM385,364h1v1h-1zM384,364h1v1h-1zM380,364h1v1h-1zM379,364h1v1h-1zM378,364h1v1h-1zM374,364h1v1h-1zM373,364h1v1h-1zM372,364h1v1h-1zM368,364h1v1h-1zM367,364h1v1h-1zM366,364h1v1h-1zM362,364h1v1h-1zM361,364h1v1h-1zM360,364h1v1h-1zM357,365h1v1h-1zM357,366h1v1h-1zM357,367h1v1h-1zM357,371h1v1h-1zM357,372h1v1h-1zM357,373h1v1h-1zM357,377h1v1h-1zM357,378h1v1h-1zM357,379h1v1h-1zM357,383h1v1h-1zM357,384h1v1h-1zM358,384h1v1h-1zM362,384h1v1h-1zM363,384h1v1h-1zM364,384h1v1h-1zM368,384h1v1h-1zM369,384h1v1h-1zM370,384h1v1h-1zM374,384h1v1h-1zM375,384h1v1h-1zM376,384h1v1h-1zM380,384h1v1h-1zM381,384h1v1h-1zM382,384h1v1h-1zM386,384h1v1h-1zM387,384h1v1h-1zM388,384h1v1h-1zM392,384h1v1h-1zM393,384h1v1h-1zM394,384h1v1h-1zM398,384h1v1h-1zM399,384h1v1h-1zM400,384h1v1h-1zM404,384h1v1h-1zM405,384h1v1h-1zM406,384h1v1h-1zM410,384h1v1h-1zM411,384h1v1h-1zM412,384h1v1h-1zM416,384h1v1h-1zM416,383h1v1h-1zM416,382h1v1h-1zM416,378h1v1h-1zM416,377h1v1h-1zM416,376h1v1h-1zM416,372h1v1h-1zM416,371h1v1h-1zM416,370h1v1h-1zM416,366h1v1h-1zM416,365h1v1h-1z" fill="#000"/>
<line x1="359" y1="366.5" x2="365" y2="366.5" stroke="#000"/>
<line x1="359" y1="368.5" x2="364" y2="368.5" stroke="#000"/>
<line x1="359" y1="370.5" x2="364" y2="370.5" stroke="#000"/>
<text x="366" y="379" font-size="11" font-weight="700" fill="#000" textLength="44.00" lengthAdjust="spacingAndGlyphs">ErledDat</text>
<rect x="361" y="401" width="66" height="21" fill="#C0C0C0"/>
<rect x="357" y="397" width="66" height="21" fill="#fff"/>
<path d="M422,397h1v1h-1zM421,397h1v1h-1zM420,397h1v1h-1zM416,397h1v1h-1zM415,397h1v1h-1zM414,397h1v1h-1zM410,397h1v1h-1zM409,397h1v1h-1zM408,397h1v1h-1zM404,397h1v1h-1zM403,397h1v1h-1zM402,397h1v1h-1zM398,397h1v1h-1zM397,397h1v1h-1zM396,397h1v1h-1zM392,397h1v1h-1zM391,397h1v1h-1zM390,397h1v1h-1zM386,397h1v1h-1zM385,397h1v1h-1zM384,397h1v1h-1zM380,397h1v1h-1zM379,397h1v1h-1zM378,397h1v1h-1zM374,397h1v1h-1zM373,397h1v1h-1zM372,397h1v1h-1zM368,397h1v1h-1zM367,397h1v1h-1zM366,397h1v1h-1zM362,397h1v1h-1zM361,397h1v1h-1zM360,397h1v1h-1zM357,398h1v1h-1zM357,399h1v1h-1zM357,400h1v1h-1zM357,404h1v1h-1zM357,405h1v1h-1zM357,406h1v1h-1zM357,410h1v1h-1zM357,411h1v1h-1zM357,412h1v1h-1zM357,416h1v1h-1zM357,417h1v1h-1zM358,417h1v1h-1zM362,417h1v1h-1zM363,417h1v1h-1zM364,417h1v1h-1zM368,417h1v1h-1zM369,417h1v1h-1zM370,417h1v1h-1zM374,417h1v1h-1zM375,417h1v1h-1zM376,417h1v1h-1zM380,417h1v1h-1zM381,417h1v1h-1zM382,417h1v1h-1zM386,417h1v1h-1zM387,417h1v1h-1zM388,417h1v1h-1zM392,417h1v1h-1zM393,417h1v1h-1zM394,417h1v1h-1zM398,417h1v1h-1zM399,417h1v1h-1zM400,417h1v1h-1zM404,417h1v1h-1zM405,417h1v1h-1zM406,417h1v1h-1zM410,417h1v1h-1zM411,417h1v1h-1zM412,417h1v1h-1zM416,417h1v1h-1zM417,417h1v1h-1zM418,417h1v1h-1zM422,417h1v1h-1zM422,416h1v1h-1zM422,415h1v1h-1zM422,411h1v1h-1zM422,410h1v1h-1zM422,409h1v1h-1zM422,405h1v1h-1zM422,404h1v1h-1zM422,403h1v1h-1zM422,399h1v1h-1zM422,398h1v1h-1z" fill="#000"/>
<line x1="359" y1="399.5" x2="365" y2="399.5" stroke="#000"/>
<line x1="359" y1="401.5" x2="364" y2="401.5" stroke="#000"/>
<line x1="359" y1="403.5" x2="364" y2="403.5" stroke="#000"/>
<text x="366" y="412" font-size="11" font-weight="700" fill="#000" textLength="49.50" lengthAdjust="spacingAndGlyphs">DeepLink</text>
<rect x="361" y="434" width="159" height="21" fill="#C0C0C0"/>
<rect x="357" y="430" width="159" height="21" fill="#fff"/>
<path d="M515,430h1v1h-1zM514,430h1v1h-1zM513,430h1v1h-1zM509,430h1v1h-1zM508,430h1v1h-1zM507,430h1v1h-1zM503,430h1v1h-1zM502,430h1v1h-1zM501,430h1v1h-1zM497,430h1v1h-1zM496,430h1v1h-1zM495,430h1v1h-1zM491,430h1v1h-1zM490,430h1v1h-1zM489,430h1v1h-1zM485,430h1v1h-1zM484,430h1v1h-1zM483,430h1v1h-1zM479,430h1v1h-1zM478,430h1v1h-1zM477,430h1v1h-1zM473,430h1v1h-1zM472,430h1v1h-1zM471,430h1v1h-1zM467,430h1v1h-1zM466,430h1v1h-1zM465,430h1v1h-1zM461,430h1v1h-1zM460,430h1v1h-1zM459,430h1v1h-1zM455,430h1v1h-1zM454,430h1v1h-1zM453,430h1v1h-1zM449,430h1v1h-1zM448,430h1v1h-1zM447,430h1v1h-1zM443,430h1v1h-1zM442,430h1v1h-1zM441,430h1v1h-1zM437,430h1v1h-1zM436,430h1v1h-1zM435,430h1v1h-1zM431,430h1v1h-1zM430,430h1v1h-1zM429,430h1v1h-1zM425,430h1v1h-1zM424,430h1v1h-1zM423,430h1v1h-1zM419,430h1v1h-1zM418,430h1v1h-1zM417,430h1v1h-1zM413,430h1v1h-1zM412,430h1v1h-1zM411,430h1v1h-1zM407,430h1v1h-1zM406,430h1v1h-1zM405,430h1v1h-1zM401,430h1v1h-1zM400,430h1v1h-1zM399,430h1v1h-1zM395,430h1v1h-1zM394,430h1v1h-1zM393,430h1v1h-1zM389,430h1v1h-1zM388,430h1v1h-1zM387,430h1v1h-1zM383,430h1v1h-1zM382,430h1v1h-1zM381,430h1v1h-1zM377,430h1v1h-1zM376,430h1v1h-1zM375,430h1v1h-1zM371,430h1v1h-1zM370,430h1v1h-1zM369,430h1v1h-1zM365,430h1v1h-1zM364,430h1v1h-1zM363,430h1v1h-1zM359,430h1v1h-1zM358,430h1v1h-1zM357,430h1v1h-1zM357,434h1v1h-1zM357,435h1v1h-1zM357,436h1v1h-1zM357,440h1v1h-1zM357,441h1v1h-1zM357,442h1v1h-1zM357,446h1v1h-1zM357,447h1v1h-1zM357,448h1v1h-1zM359,450h1v1h-1zM360,450h1v1h-1zM361,450h1v1h-1zM365,450h1v1h-1zM366,450h1v1h-1zM367,450h1v1h-1zM371,450h1v1h-1zM372,450h1v1h-1zM373,450h1v1h-1zM377,450h1v1h-1zM378,450h1v1h-1zM379,450h1v1h-1zM383,450h1v1h-1zM384,450h1v1h-1zM385,450h1v1h-1zM389,450h1v1h-1zM390,450h1v1h-1zM391,450h1v1h-1zM395,450h1v1h-1zM396,450h1v1h-1zM397,450h1v1h-1zM401,450h1v1h-1zM402,450h1v1h-1zM403,450h1v1h-1zM407,450h1v1h-1zM408,450h1v1h-1zM409,450h1v1h-1zM413,450h1v1h-1zM414,450h1v1h-1zM415,450h1v1h-1zM419,450h1v1h-1zM420,450h1v1h-1zM421,450h1v1h-1zM425,450h1v1h-1zM426,450h1v1h-1zM427,450h1v1h-1zM431,450h1v1h-1zM432,450h1v1h-1zM433,450h1v1h-1zM437,450h1v1h-1zM438,450h1v1h-1zM439,450h1v1h-1zM443,450h1v1h-1zM444,450h1v1h-1zM445,450h1v1h-1zM449,450h1v1h-1zM450,450h1v1h-1zM451,450h1v1h-1zM455,450h1v1h-1zM456,450h1v1h-1zM457,450h1v1h-1zM461,450h1v1h-1zM462,450h1v1h-1zM463,450h1v1h-1zM467,450h1v1h-1zM468,450h1v1h-1zM469,450h1v1h-1zM473,450h1v1h-1zM474,450h1v1h-1zM475,450h1v1h-1zM479,450h1v1h-1zM480,450h1v1h-1zM481,450h1v1h-1zM485,450h1v1h-1zM486,450h1v1h-1zM487,450h1v1h-1zM491,450h1v1h-1zM492,450h1v1h-1zM493,450h1v1h-1zM497,450h1v1h-1zM498,450h1v1h-1zM499,450h1v1h-1zM503,450h1v1h-1zM504,450h1v1h-1zM505,450h1v1h-1zM509,450h1v1h-1zM510,450h1v1h-1zM511,450h1v1h-1zM515,450h1v1h-1zM515,449h1v1h-1zM515,448h1v1h-1zM515,444h1v1h-1zM515,443h1v1h-1zM515,442h1v1h-1zM515,438h1v1h-1zM515,437h1v1h-1zM515,436h1v1h-1zM515,432h1v1h-1zM515,431h1v1h-1z" fill="#000"/>
<text x="366.6" y="445" font-size="11" font-weight="700" fill="#000" textLength="142.00" lengthAdjust="spacingAndGlyphs">ZusaetzlicheSchadensdaten</text>
<rect x="364" y="498" width="82" height="21" fill="#C0C0C0"/>
<rect x="360" y="494" width="82" height="21" fill="#fff"/>
<path d="M441,494h1v1h-1zM440,494h1v1h-1zM439,494h1v1h-1zM435,494h1v1h-1zM434,494h1v1h-1zM433,494h1v1h-1zM429,494h1v1h-1zM428,494h1v1h-1zM427,494h1v1h-1zM423,494h1v1h-1zM422,494h1v1h-1zM421,494h1v1h-1zM417,494h1v1h-1zM416,494h1v1h-1zM415,494h1v1h-1zM411,494h1v1h-1zM410,494h1v1h-1zM409,494h1v1h-1zM405,494h1v1h-1zM404,494h1v1h-1zM403,494h1v1h-1zM399,494h1v1h-1zM398,494h1v1h-1zM397,494h1v1h-1zM393,494h1v1h-1zM392,494h1v1h-1zM391,494h1v1h-1zM387,494h1v1h-1zM386,494h1v1h-1zM385,494h1v1h-1zM381,494h1v1h-1zM380,494h1v1h-1zM379,494h1v1h-1zM375,494h1v1h-1zM374,494h1v1h-1zM373,494h1v1h-1zM369,494h1v1h-1zM368,494h1v1h-1zM367,494h1v1h-1zM363,494h1v1h-1zM362,494h1v1h-1zM361,494h1v1h-1zM360,497h1v1h-1zM360,498h1v1h-1zM360,499h1v1h-1zM360,503h1v1h-1zM360,504h1v1h-1zM360,505h1v1h-1zM360,509h1v1h-1zM360,510h1v1h-1zM360,511h1v1h-1zM361,514h1v1h-1zM362,514h1v1h-1zM363,514h1v1h-1zM367,514h1v1h-1zM368,514h1v1h-1zM369,514h1v1h-1zM373,514h1v1h-1zM374,514h1v1h-1zM375,514h1v1h-1zM379,514h1v1h-1zM380,514h1v1h-1zM381,514h1v1h-1zM385,514h1v1h-1zM386,514h1v1h-1zM387,514h1v1h-1zM391,514h1v1h-1zM392,514h1v1h-1zM393,514h1v1h-1zM397,514h1v1h-1zM398,514h1v1h-1zM399,514h1v1h-1zM403,514h1v1h-1zM404,514h1v1h-1zM405,514h1v1h-1zM409,514h1v1h-1zM410,514h1v1h-1zM411,514h1v1h-1zM415,514h1v1h-1zM416,514h1v1h-1zM417,514h1v1h-1zM421,514h1v1h-1zM422,514h1v1h-1zM423,514h1v1h-1zM427,514h1v1h-1zM428,514h1v1h-1zM429,514h1v1h-1zM433,514h1v1h-1zM434,514h1v1h-1zM435,514h1v1h-1zM439,514h1v1h-1zM440,514h1v1h-1zM441,514h1v1h-1zM441,510h1v1h-1zM441,509h1v1h-1zM441,508h1v1h-1zM441,504h1v1h-1zM441,503h1v1h-1zM441,502h1v1h-1zM441,498h1v1h-1zM441,497h1v1h-1zM441,496h1v1h-1z" fill="#000"/>
<rect x="357" y="491" width="82" height="21" fill="#fff"/>
<path d="M438,491h1v1h-1zM437,491h1v1h-1zM436,491h1v1h-1zM432,491h1v1h-1zM431,491h1v1h-1zM430,491h1v1h-1zM426,491h1v1h-1zM425,491h1v1h-1zM424,491h1v1h-1zM420,491h1v1h-1zM419,491h1v1h-1zM418,491h1v1h-1zM414,491h1v1h-1zM413,491h1v1h-1zM412,491h1v1h-1zM408,491h1v1h-1zM407,491h1v1h-1zM406,491h1v1h-1zM402,491h1v1h-1zM401,491h1v1h-1zM400,491h1v1h-1zM396,491h1v1h-1zM395,491h1v1h-1zM394,491h1v1h-1zM390,491h1v1h-1zM389,491h1v1h-1zM388,491h1v1h-1zM384,491h1v1h-1zM383,491h1v1h-1zM382,491h1v1h-1zM378,491h1v1h-1zM377,491h1v1h-1zM376,491h1v1h-1zM372,491h1v1h-1zM371,491h1v1h-1zM370,491h1v1h-1zM366,491h1v1h-1zM365,491h1v1h-1zM364,491h1v1h-1zM360,491h1v1h-1zM359,491h1v1h-1zM358,491h1v1h-1zM357,494h1v1h-1zM357,495h1v1h-1zM357,496h1v1h-1zM357,500h1v1h-1zM357,501h1v1h-1zM357,502h1v1h-1zM357,506h1v1h-1zM357,507h1v1h-1zM357,508h1v1h-1zM358,511h1v1h-1zM359,511h1v1h-1zM360,511h1v1h-1zM364,511h1v1h-1zM365,511h1v1h-1zM366,511h1v1h-1zM370,511h1v1h-1zM371,511h1v1h-1zM372,511h1v1h-1zM376,511h1v1h-1zM377,511h1v1h-1zM378,511h1v1h-1zM382,511h1v1h-1zM383,511h1v1h-1zM384,511h1v1h-1zM388,511h1v1h-1zM389,511h1v1h-1zM390,511h1v1h-1zM394,511h1v1h-1zM395,511h1v1h-1zM396,511h1v1h-1zM400,511h1v1h-1zM401,511h1v1h-1zM402,511h1v1h-1zM406,511h1v1h-1zM407,511h1v1h-1zM408,511h1v1h-1zM412,511h1v1h-1zM413,511h1v1h-1zM414,511h1v1h-1zM418,511h1v1h-1zM419,511h1v1h-1zM420,511h1v1h-1zM424,511h1v1h-1zM425,511h1v1h-1zM426,511h1v1h-1zM430,511h1v1h-1zM431,511h1v1h-1zM432,511h1v1h-1zM436,511h1v1h-1zM437,511h1v1h-1zM438,511h1v1h-1zM438,507h1v1h-1zM438,506h1v1h-1zM438,505h1v1h-1zM438,501h1v1h-1zM438,500h1v1h-1zM438,499h1v1h-1zM438,495h1v1h-1zM438,494h1v1h-1zM438,493h1v1h-1z" fill="#000"/>
<text x="366.6" y="506" font-size="11" font-weight="700" fill="#000" textLength="59.60" lengthAdjust="spacingAndGlyphs">Meldungen</text>
<rect x="427" y="515" width="1" height="1" fill="#fff"/>
<rect x="428" y="516" width="1" height="1" fill="#fff"/>
<rect x="429" y="517" width="1" height="1" fill="#fff"/>
<rect x="424" y="512" width="1" height="1" fill="#000"/>
<rect x="425" y="513" width="1" height="1" fill="#000"/>
<rect x="430" y="518" width="1" height="1" fill="#000"/>
<rect x="431" y="517" width="1" height="1" fill="#000"/>
<rect x="432" y="516" width="1" height="1" fill="#000"/>
<rect x="433" y="515" width="1" height="1" fill="#000"/>
<rect x="433" y="496" width="12" height="12" fill="#000"/>
<rect x="434" y="497" width="9" height="9" fill="#fff"/>
<line x1="435" y1="501.5" x2="442" y2="501.5" stroke="#000"/>
<line x1="438.5" y1="498" x2="438.5" y2="505" stroke="#000"/>
<text x="413" y="529" font-size="11" fill="#000" text-rendering="geometricPrecision" textLength="19.5" lengthAdjust="spacingAndGlyphs">0..<tspan font-weight="700">∞</tspan></text>
<rect x="361" y="561" width="90" height="21" fill="#C0C0C0"/>
<rect x="357.5" y="557.5" width="89" height="20" fill="#fff" stroke="#000"/>
<line x1="359" y1="559.5" x2="365" y2="559.5" stroke="#000"/>
<line x1="359" y1="561.5" x2="364" y2="561.5" stroke="#000"/>
<line x1="359" y1="563.5" x2="364" y2="563.5" stroke="#000"/>
<text x="366.6" y="572" font-size="11" font-weight="700" fill="#000" textLength="73.40" lengthAdjust="spacingAndGlyphs">BearbStandCd</text>
<rect x="361" y="594" width="123" height="21" fill="#C0C0C0"/>
<rect x="357" y="590" width="123" height="21" fill="#fff"/>
<path d="M479,590h1v1h-1zM478,590h1v1h-1zM477,590h1v1h-1zM473,590h1v1h-1zM472,590h1v1h-1zM471,590h1v1h-1zM467,590h1v1h-1zM466,590h1v1h-1zM465,590h1v1h-1zM461,590h1v1h-1zM460,590h1v1h-1zM459,590h1v1h-1zM455,590h1v1h-1zM454,590h1v1h-1zM453,590h1v1h-1zM449,590h1v1h-1zM448,590h1v1h-1zM447,590h1v1h-1zM443,590h1v1h-1zM442,590h1v1h-1zM441,590h1v1h-1zM437,590h1v1h-1zM436,590h1v1h-1zM435,590h1v1h-1zM431,590h1v1h-1zM430,590h1v1h-1zM429,590h1v1h-1zM425,590h1v1h-1zM424,590h1v1h-1zM423,590h1v1h-1zM419,590h1v1h-1zM418,590h1v1h-1zM417,590h1v1h-1zM413,590h1v1h-1zM412,590h1v1h-1zM411,590h1v1h-1zM407,590h1v1h-1zM406,590h1v1h-1zM405,590h1v1h-1zM401,590h1v1h-1zM400,590h1v1h-1zM399,590h1v1h-1zM395,590h1v1h-1zM394,590h1v1h-1zM393,590h1v1h-1zM389,590h1v1h-1zM388,590h1v1h-1zM387,590h1v1h-1zM383,590h1v1h-1zM382,590h1v1h-1zM381,590h1v1h-1zM377,590h1v1h-1zM376,590h1v1h-1zM375,590h1v1h-1zM371,590h1v1h-1zM370,590h1v1h-1zM369,590h1v1h-1zM365,590h1v1h-1zM364,590h1v1h-1zM363,590h1v1h-1zM359,590h1v1h-1zM358,590h1v1h-1zM357,590h1v1h-1zM357,594h1v1h-1zM357,595h1v1h-1zM357,596h1v1h-1zM357,600h1v1h-1zM357,601h1v1h-1zM357,602h1v1h-1zM357,606h1v1h-1zM357,607h1v1h-1zM357,608h1v1h-1zM359,610h1v1h-1zM360,610h1v1h-1zM361,610h1v1h-1zM365,610h1v1h-1zM366,610h1v1h-1zM367,610h1v1h-1zM371,610h1v1h-1zM372,610h1v1h-1zM373,610h1v1h-1zM377,610h1v1h-1zM378,610h1v1h-1zM379,610h1v1h-1zM383,610h1v1h-1zM384,610h1v1h-1zM385,610h1v1h-1zM389,610h1v1h-1zM390,610h1v1h-1zM391,610h1v1h-1zM395,610h1v1h-1zM396,610h1v1h-1zM397,610h1v1h-1zM401,610h1v1h-1zM402,610h1v1h-1zM403,610h1v1h-1zM407,610h1v1h-1zM408,610h1v1h-1zM409,610h1v1h-1zM413,610h1v1h-1zM414,610h1v1h-1zM415,610h1v1h-1zM419,610h1v1h-1zM420,610h1v1h-1zM421,610h1v1h-1zM425,610h1v1h-1zM426,610h1v1h-1zM427,610h1v1h-1zM431,610h1v1h-1zM432,610h1v1h-1zM433,610h1v1h-1zM437,610h1v1h-1zM438,610h1v1h-1zM439,610h1v1h-1zM443,610h1v1h-1zM444,610h1v1h-1zM445,610h1v1h-1zM449,610h1v1h-1zM450,610h1v1h-1zM451,610h1v1h-1zM455,610h1v1h-1zM456,610h1v1h-1zM457,610h1v1h-1zM461,610h1v1h-1zM462,610h1v1h-1zM463,610h1v1h-1zM467,610h1v1h-1zM468,610h1v1h-1zM469,610h1v1h-1zM473,610h1v1h-1zM474,610h1v1h-1zM475,610h1v1h-1zM479,610h1v1h-1zM479,609h1v1h-1zM479,608h1v1h-1zM479,604h1v1h-1zM479,603h1v1h-1zM479,602h1v1h-1zM479,598h1v1h-1zM479,597h1v1h-1zM479,596h1v1h-1zM479,592h1v1h-1zM479,591h1v1h-1z" fill="#000"/>
<rect x="360" y="604" width="4" height="1" fill="#000"/>
<rect x="361" y="605" width="3" height="1" fill="#000"/>
<rect x="360" y="606" width="2" height="1" fill="#000"/>
<rect x="363" y="606" width="1" height="2" fill="#000"/>
<rect x="359" y="607" width="3" height="1" fill="#000"/>
<rect x="359" y="608" width="2" height="1" fill="#000"/>
<text x="366.6" y="605" font-size="11" font-weight="700" fill="#000" textLength="101.40" lengthAdjust="spacingAndGlyphs">Schadenzuordnung</text>
<rect x="474" y="595" width="12" height="12" fill="#000"/>
<rect x="475" y="596" width="9" height="9" fill="#fff"/>
<line x1="476" y1="600.5" x2="483" y2="600.5" stroke="#000"/>
<line x1="479.5" y1="597" x2="479.5" y2="604" stroke="#000"/>
<rect x="17" y="425" width="71" height="21" fill="#C0C0C0"/>
<rect x="13.5" y="421.5" width="70" height="20" fill="#fff" stroke="#000"/>
<rect x="10.5" y="418.5" width="70" height="20" fill="#fff" stroke="#000"/>
<text x="19" y="433" font-size="11" font-weight="700" fill="#000" textLength="51.00" lengthAdjust="spacingAndGlyphs">Schaeden</text>
<rect x="66" y="439" width="1" height="1" fill="#000"/>
<rect x="67" y="440" width="1" height="1" fill="#000"/>
<rect x="69" y="442" width="1" height="1" fill="#000"/>
<rect x="70" y="443" width="1" height="1" fill="#000"/>
<rect x="71" y="444" width="1" height="1" fill="#000"/>
<rect x="72" y="445" width="1" height="1" fill="#000"/>
<rect x="73" y="444" width="1" height="1" fill="#000"/>
<rect x="74" y="443" width="1" height="1" fill="#000"/>
<rect x="75" y="442" width="1" height="1" fill="#000"/>
<rect x="75" y="423" width="12" height="12" fill="#000"/>
<rect x="76" y="424" width="9" height="9" fill="#fff"/>
<line x1="77" y1="428.5" x2="84" y2="428.5" stroke="#000"/>
<text x="56" y="456" font-size="11" fill="#000" text-rendering="geometricPrecision" textLength="19.5" lengthAdjust="spacingAndGlyphs">1..<tspan font-weight="700">∞</tspan></text>
</g>
<text x="362" y="72" font-size="9.8" font-weight="400" fill="#747474" textLength="200.00" lengthAdjust="spacingAndGlyphs" text-rendering="geometricPrecision">GeschäftfallId der Anlage des spartenbezogenen</text>
<text x="362" y="83" font-size="9.8" font-weight="400" fill="#747474" textLength="75.90" lengthAdjust="spacingAndGlyphs" text-rendering="geometricPrecision">Schaden-Objektes</text>
<text x="362" y="166" font-size="9.8" font-weight="400" fill="#747474" textLength="181.00" lengthAdjust="spacingAndGlyphs" text-rendering="geometricPrecision">Seit wann der Bearbeitungsstand erreicht ist</text>
<text x="362" y="466" font-size="9.8" font-weight="400" fill="#747474" textLength="237.00" lengthAdjust="spacingAndGlyphs" text-rendering="geometricPrecision">Moeglichkeit fuer die Erweitung des Standards um eigene</text>
<text x="362" y="477" font-size="9.8" font-weight="400" fill="#747474" textLength="54.90" lengthAdjust="spacingAndGlyphs" text-rendering="geometricPrecision">Antragsdaten</text>
<text x="362" y="544" font-size="9.8" font-weight="400" fill="#747474" textLength="200.00" lengthAdjust="spacingAndGlyphs" text-rendering="geometricPrecision">Eine oder mehrere Meldungen zu diesem Objekt</text>
<text x="362" y="626" font-size="9.8" font-weight="400" fill="#747474" textLength="208.00" lengthAdjust="spacingAndGlyphs" text-rendering="geometricPrecision">Die Schadenzuordnung enthält eine VU-spezifische</text>
<text x="362" y="637" font-size="9.8" font-weight="400" fill="#747474" textLength="200.50" lengthAdjust="spacingAndGlyphs" text-rendering="geometricPrecision">Systematik, mit Hilfe derer die Schadenmeldung</text>
<text x="362" y="648" font-size="9.8" font-weight="400" fill="#747474" textLength="222.40" lengthAdjust="spacingAndGlyphs" text-rendering="geometricPrecision">automatisch zugeordnet wird. Sie entspricht nicht dem</text>
<text x="362" y="659" font-size="9.8" font-weight="400" fill="#747474" textLength="207.50" lengthAdjust="spacingAndGlyphs" text-rendering="geometricPrecision">SchadUrsCd aus dem OMDS Datensatz, da dieser</text>
<text x="362" y="670" font-size="9.8" font-weight="400" fill="#747474" textLength="232.00" lengthAdjust="spacingAndGlyphs" text-rendering="geometricPrecision">allgemein über alle VUs gilt und damit keine ausreichend</text>
<text x="362" y="681" font-size="9.8" font-weight="400" fill="#747474" textLength="108.70" lengthAdjust="spacingAndGlyphs" text-rendering="geometricPrecision">präzise  Zuordnung zulässt.</text>
<text x="16" y="470" font-size="9.8" font-weight="400" fill="#747474" textLength="218.00" lengthAdjust="spacingAndGlyphs" text-rendering="geometricPrecision">Die eigentlichen Schadenobjekte, die typischer Weise</text>
<text x="16" y="481" font-size="9.8" font-weight="400" fill="#747474" textLength="226.00" lengthAdjust="spacingAndGlyphs" text-rendering="geometricPrecision">zeitverzögert vom Versicherungsunternehmen angelegt</text>
<text x="16" y="492" font-size="9.8" font-weight="400" fill="#747474" textLength="29.80" lengthAdjust="spacingAndGlyphs" text-rendering="geometricPrecision">werden</text>
</svg>
</body></html>
